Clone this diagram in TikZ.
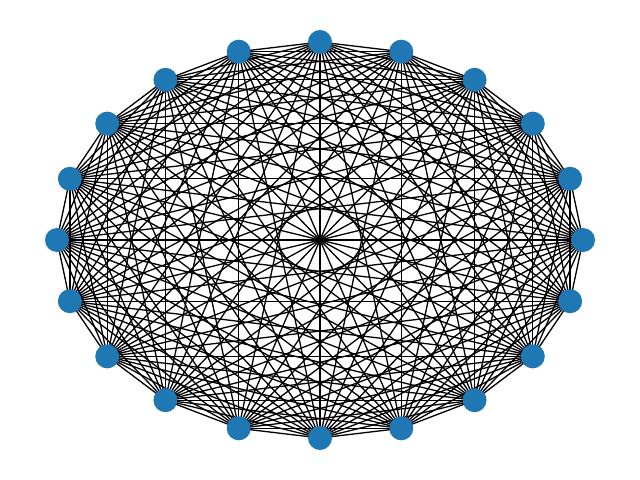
\documentclass[tikz,border=0pt]{standalone}
\definecolor{nodeblue}{HTML}{1F77B4}
\tikzset{
 vertex/.style={circle,fill=nodeblue,draw=none,minimum size=24bp,inner sep=0pt},
 edge/.style={black,line width=1.3bp}
}
\begin{document}
\begin{tikzpicture}[x=1bp,y=-1bp]
 \useasboundingbox (0,0) rectangle (640,480);
 % the 20 positions on an ellipse
 \foreach \i in {0,...,19}
  \coordinate (v\i) at ({320+263*cos(18*\i)},{240-198*sin(18*\i)});
 % every pair joined
 \foreach \i in {0,...,18}{
  \pgfmathtruncatemacro\k{\i+1}
  \foreach \j in {\k,...,19}
   \draw[edge] (v\i) -- (v\j);
 }
 \foreach \i in {0,...,19}
  \node[vertex] (n\i) at (v\i) {};
\end{tikzpicture}
\end{document}
